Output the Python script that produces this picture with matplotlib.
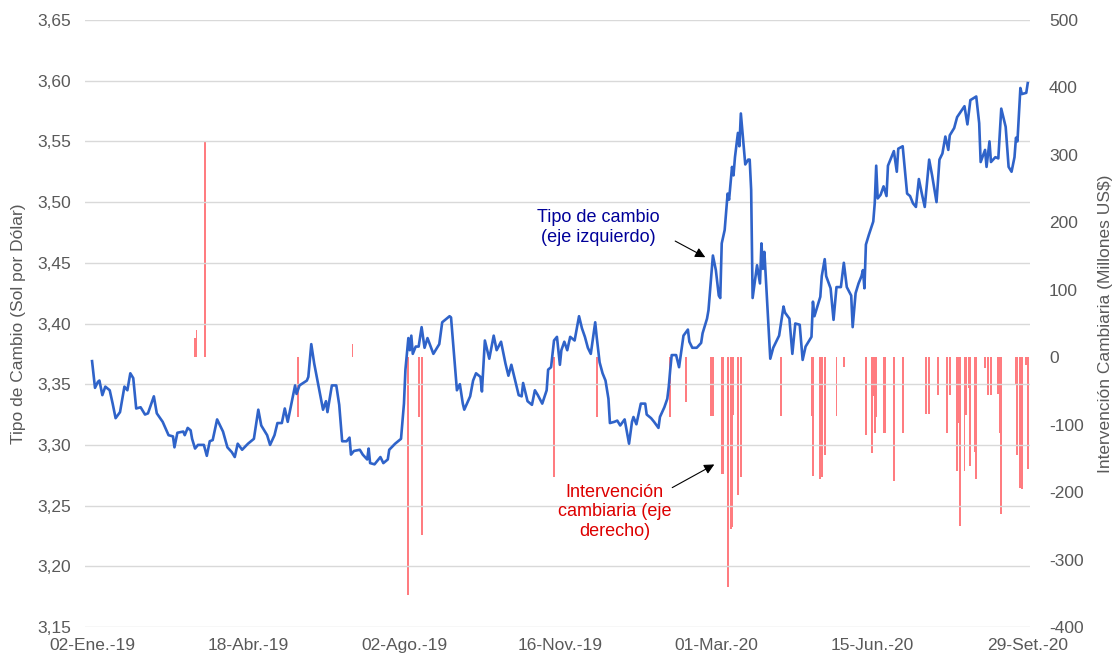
import pandas as pd
import matplotlib.pyplot as plt
import matplotlib.dates as mdates

plt.rcParams['font.family'] = ['Liberation Sans', 'DejaVu Sans']

start = pd.Timestamp('2019-01-02')

# tipo de cambio: days since 02-Ene-19, value (sol por dolar)
tc_days = [0, 2, 4, 5, 7, 9, 12, 14, 16, 19, 22, 24, 26, 28, 30, 33, 36, 38, 40, 42,
           44, 48, 52, 55, 56, 58, 62, 63, 65, 67, 68, 70, 72, 76, 78, 80, 82, 85, 89, 92,
           95, 97, 99, 102, 106, 110, 113, 115, 117, 119, 121, 124, 126, 129, 131, 133, 136, 138, 139, 141,
           146, 147, 149, 151, 154, 157, 159, 160, 163, 166, 168, 170, 173, 175, 176, 178, 182, 184, 187, 188,
           189, 192, 196, 198, 201, 202, 206, 210, 212, 213, 215, 216, 217, 218, 220, 222, 224, 226, 228, 232,
           236, 238, 243, 244, 248, 250, 252, 253, 257, 259, 261, 264, 265, 267, 270, 273, 275, 278, 281, 283,
           285, 288, 290, 292, 293, 296, 299, 301, 303, 306, 309, 310, 312, 314, 316, 318, 319, 321, 323, 325,
           328, 331, 333, 335, 337, 339, 342, 343, 345, 347, 349, 351, 352, 355, 357, 359, 362, 365, 367, 368,
           370, 373, 376, 377, 380, 382, 385, 386, 389, 391, 392, 393, 394, 397, 399, 402, 405, 406, 408, 411,
           414, 415, 418, 419, 422, 424, 426, 427, 428, 430, 432, 433, 435, 436, 437, 439, 440, 441, 444, 446,
           447, 448, 449, 452, 454, 455, 456, 457, 461, 463, 467, 470, 471, 474, 476, 478, 481, 483, 485, 489,
           490, 491, 495, 496, 498, 499, 502, 504, 506, 509, 511, 513, 516, 517, 519, 521, 523, 524, 525, 526,
           528, 531, 532, 533, 534, 536, 538, 540, 541, 543, 545, 547, 548, 551, 554, 556, 558, 560, 562, 564,
           566, 569, 571, 574, 576, 578, 580, 582, 583, 586, 588, 593, 595, 597, 601, 603, 604, 607, 608, 610,
           611, 614, 616, 618, 621, 623, 625, 627, 628, 629, 631, 632, 635, 636]
tc_vals = [3.369, 3.347, 3.352, 3.353, 3.341, 3.348, 3.345, 3.334, 3.322, 3.327, 3.348, 3.345, 3.359, 3.355, 3.330, 3.331, 3.325, 3.326, 3.333, 3.340,
           3.326, 3.319, 3.308, 3.307, 3.298, 3.310, 3.311, 3.308, 3.314, 3.312, 3.305, 3.297, 3.300, 3.300, 3.291, 3.303, 3.304, 3.321, 3.311, 3.298,
           3.294, 3.290, 3.301, 3.296, 3.301, 3.305, 3.329, 3.316, 3.312, 3.308, 3.300, 3.308, 3.318, 3.318, 3.330, 3.319, 3.337, 3.349, 3.342, 3.349,
           3.353, 3.356, 3.383, 3.367, 3.348, 3.329, 3.336, 3.327, 3.349, 3.349, 3.333, 3.303, 3.303, 3.306, 3.292, 3.295, 3.296, 3.292, 3.288, 3.297,
           3.285, 3.284, 3.290, 3.285, 3.288, 3.296, 3.301, 3.305, 3.334, 3.362, 3.388, 3.378, 3.390, 3.375, 3.381, 3.381, 3.397, 3.380, 3.388, 3.375,
           3.383, 3.401, 3.406, 3.405, 3.345, 3.350, 3.334, 3.329, 3.340, 3.353, 3.359, 3.356, 3.344, 3.386, 3.371, 3.390, 3.378, 3.385, 3.367, 3.357,
           3.366, 3.351, 3.341, 3.340, 3.351, 3.336, 3.333, 3.345, 3.341, 3.334, 3.345, 3.362, 3.364, 3.386, 3.389, 3.366, 3.378, 3.385, 3.378, 3.389,
           3.386, 3.406, 3.396, 3.389, 3.380, 3.375, 3.401, 3.389, 3.368, 3.359, 3.353, 3.338, 3.318, 3.319, 3.320, 3.316, 3.321, 3.301, 3.319, 3.323,
           3.317, 3.334, 3.334, 3.325, 3.322, 3.319, 3.314, 3.323, 3.331, 3.338, 3.348, 3.362, 3.374, 3.374, 3.364, 3.390, 3.395, 3.385, 3.380, 3.380,
           3.384, 3.392, 3.404, 3.411, 3.456, 3.444, 3.423, 3.421, 3.466, 3.477, 3.507, 3.502, 3.529, 3.522, 3.537, 3.557, 3.546, 3.573, 3.531, 3.535,
           3.535, 3.510, 3.421, 3.448, 3.433, 3.466, 3.445, 3.459, 3.371, 3.380, 3.390, 3.414, 3.409, 3.404, 3.375, 3.400, 3.399, 3.370, 3.381, 3.389,
           3.418, 3.406, 3.422, 3.439, 3.453, 3.439, 3.429, 3.403, 3.430, 3.430, 3.450, 3.430, 3.423, 3.397, 3.425, 3.433, 3.439, 3.444, 3.429, 3.465,
           3.473, 3.484, 3.499, 3.530, 3.503, 3.506, 3.513, 3.505, 3.530, 3.536, 3.542, 3.525, 3.544, 3.546, 3.507, 3.505, 3.499, 3.496, 3.519, 3.507,
           3.496, 3.535, 3.522, 3.500, 3.535, 3.540, 3.554, 3.543, 3.555, 3.561, 3.570, 3.579, 3.564, 3.584, 3.587, 3.565, 3.533, 3.543, 3.529, 3.550,
           3.533, 3.537, 3.536, 3.577, 3.562, 3.529, 3.525, 3.537, 3.553, 3.550, 3.594, 3.589, 3.590, 3.598]

# intervencion cambiaria (millones US$)
int_days = [70, 71, 77, 140, 177, 215, 222, 224, 314, 343, 393, 404, 421, 422, 428, 429, 432, 434, 435, 436,
            439, 441, 468, 489, 490, 495, 496, 498, 506, 511, 526, 530, 531, 532, 533, 538, 539, 545, 551, 567,
            569, 575, 581, 583, 588, 589, 590, 593, 594, 596, 597, 600, 601, 607, 609, 611, 616, 617, 618, 628,
            629, 631, 632, 635, 636]
int_vals = [28, 40, 319, -89, 20, -353, -89, -264, -178, -89, -89, -66, -87, -87, -173, -173, -340, -254, -251, -86,
            -204, -177, -87, -87, -176, -180, -178, -145, -87, -14, -116, -142, -58, -113, -88, -113, -113, -183, -112, -84,
            -84, -56, -112, -56, -168, -97, -250, -168, -86, -46, -161, -140, -180, -16, -56, -56, -54, -112, -232, -41,
            -145, -194, -196, -12, -166]

tick_days = [0, 106, 212, 318, 424, 530, 636]
tick_labels = ['02-Ene.-19', '18-Abr.-19', '02-Ago.-19', '16-Nov.-19', '01-Mar.-20', '15-Jun.-20', '29-Set.-20']
left_ticks = [3.15, 3.20, 3.25, 3.30, 3.35, 3.40, 3.45, 3.50, 3.55, 3.60, 3.65]
right_ticks = [-400, -300, -200, -100, 0, 100, 200, 300, 400, 500]

tc_dates = start + pd.to_timedelta(tc_days, unit='D')
int_dates = start + pd.to_timedelta(int_days, unit='D')
tick_dates = start + pd.to_timedelta(tick_days, unit='D')

grey = '#595959'
fig = plt.figure(figsize=(11.18, 6.58), dpi=100)
ax = fig.add_axes([85 / 1118, 31 / 658, 944.5 / 1118, 607 / 658])
ax2 = ax.twinx()

ax2.bar(int_dates, int_vals, width=1.3, color='#FF7C80', linewidth=0)
ax.plot(tc_dates, tc_vals, color='#2F63C9', lw=1.9)

ax.set_zorder(ax2.get_zorder() + 1)
ax.patch.set_visible(False)

ax.set_xlim(start - pd.Timedelta(days=4.8), start + pd.Timedelta(days=637.2))
ax.set_ylim(3.15, 3.65)
ax2.set_ylim(-400, 500)
ax.set_yticks(left_ticks)
ax.set_yticklabels([f'{v:.2f}'.replace('.', ',') for v in left_ticks])
ax2.set_yticks(right_ticks)
ax2.set_yticklabels([str(v) for v in right_ticks])
ax.set_xticks(tick_dates)
ax.set_xticklabels(tick_labels)

ax.grid(axis='y', color='#D9D9D9', lw=1)
for a in (ax, ax2):
    for s in a.spines.values():
        s.set_visible(False)
    a.tick_params(length=0, labelsize=12.5, colors=grey)
ax.tick_params(axis='y', pad=10)
ax2.tick_params(axis='y', pad=14)
ax.tick_params(axis='x', pad=8)

ax.set_ylabel('Tipo de Cambio (Sol por Dólar)', fontsize=12.5, color=grey, labelpad=8)
ax2.set_ylabel('Intervención Cambiaria (Millones US$)', fontsize=12.5, color=grey,
               rotation=90, labelpad=10)

# anotaciones
ax.text(start + pd.Timedelta(days=344), 3.479, 'Tipo de cambio\n(eje izquierdo)',
        ha='center', va='center', fontsize=13, color='#000099')
ax.annotate('', xy=(start + pd.Timedelta(days=418.5), 3.4535),
            xytext=(start + pd.Timedelta(days=394.7), 3.469),
            arrowprops=dict(arrowstyle='-|>', color='black', lw=0.8, mutation_scale=15))
ax.text(start + pd.Timedelta(days=355), 3.245, 'Intervención\ncambiaria (eje\nderecho)',
        ha='center', va='center', fontsize=13, color='#DD0000')
ax.annotate('', xy=(start + pd.Timedelta(days=424.6), 3.285),
            xytext=(start + pd.Timedelta(days=392.7), 3.2637),
            arrowprops=dict(arrowstyle='-|>', color='black', lw=0.8, mutation_scale=15))

plt.savefig('out.png', dpi=100)
